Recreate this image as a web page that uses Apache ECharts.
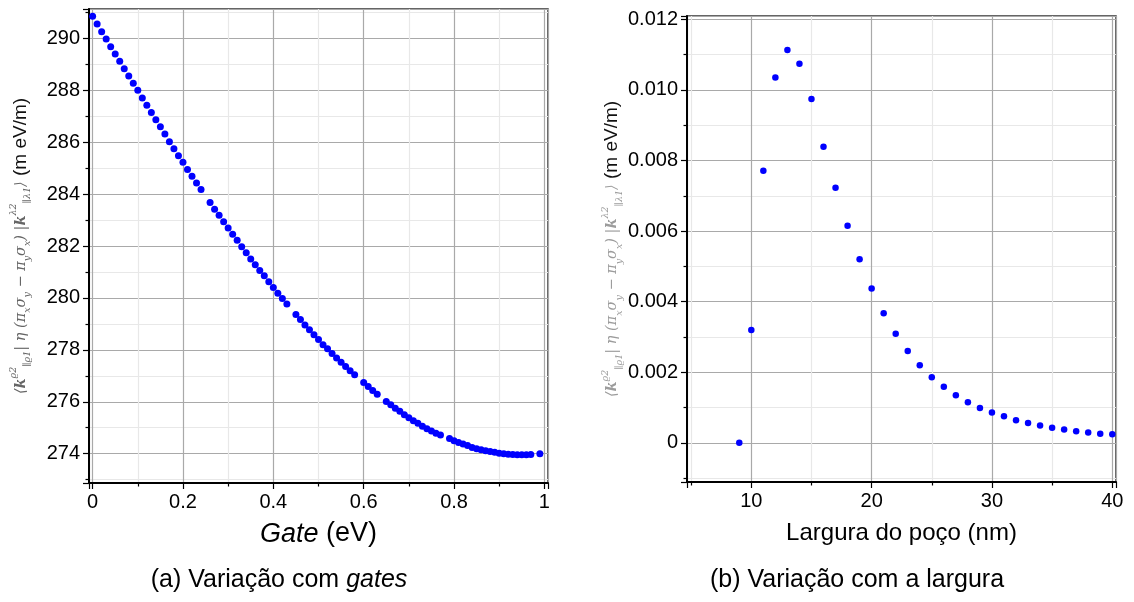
<!DOCTYPE html>
<html>
<head>
<meta charset="utf-8">
<script src="https://cdn.jsdelivr.net/npm/echarts@6/dist/echarts.min.js"></script>
<style>
  html, body { margin: 0; background: #fff; }
  #chart { width: 1134px; height: 602px; }
</style>
</head>
<body>
<div id="chart"></div>
<script>
// (a) gate sweep
const gateX = [
  0.00, 0.01, 0.02, 0.03, 0.04, 0.05, 0.06, 0.07, 0.08, 0.09,
  0.10, 0.11, 0.12, 0.13, 0.14, 0.15, 0.16, 0.17, 0.18, 0.19,
  0.20, 0.21, 0.22, 0.23, 0.24, 0.26, 0.27, 0.28, 0.29,
  0.30, 0.31, 0.32, 0.33, 0.34, 0.35, 0.36, 0.37, 0.38, 0.39,
  0.40, 0.41, 0.42, 0.43, 0.45, 0.46, 0.47, 0.48, 0.49,
  0.50, 0.51, 0.52, 0.53, 0.54, 0.55, 0.56, 0.57, 0.58,
  0.60, 0.61, 0.62, 0.63, 0.65, 0.66, 0.67, 0.68, 0.69,
  0.70, 0.71, 0.72, 0.73, 0.74, 0.75, 0.76, 0.77, 0.79,
  0.80, 0.81, 0.82, 0.83, 0.84, 0.85, 0.86, 0.87, 0.88, 0.89,
  0.90, 0.91, 0.92, 0.93, 0.94, 0.95, 0.96, 0.97, 0.99
]
const gateY = [
  290.85, 290.55, 290.25, 289.97, 289.68, 289.40, 289.12, 288.83, 288.55, 288.27,
  288.00, 287.70, 287.42, 287.14, 286.86, 286.59, 286.31, 286.02, 285.75, 285.48,
  285.23, 284.95, 284.69, 284.43, 284.18, 283.68, 283.42, 283.18, 282.93,
  282.69, 282.45, 282.22, 281.97, 281.74, 281.50, 281.28, 281.06, 280.85, 280.62,
  280.40, 280.18, 279.98, 279.77, 279.36, 279.17, 278.96, 278.77, 278.58,
  278.40, 278.20, 278.04, 277.86, 277.69, 277.52, 277.36, 277.19, 277.04,
  276.74, 276.59, 276.43, 276.29, 276.01, 275.88, 275.75, 275.63, 275.50,
  275.38, 275.27, 275.17, 275.06, 274.96, 274.87, 274.79, 274.72, 274.58,
  274.50, 274.43, 274.37, 274.31, 274.24, 274.19, 274.15, 274.11, 274.08, 274.05,
  274.02, 274.00, 273.98, 273.97, 273.96, 273.96, 273.96, 273.97, 274.00
]

// (b) well width sweep
const widthX = [
  9, 10, 11, 12, 13, 14, 15, 16, 17, 18, 19, 20, 21, 22, 23, 24,
  25, 26, 27, 28, 29, 30, 31, 32, 33, 34, 35, 36, 37, 38, 39, 40
]
const widthY = [
  0, 0.00320, 0.00771, 0.01035, 0.01113, 0.01074, 0.00974, 0.00839,
  0.00723, 0.00615, 0.00520, 0.00437, 0.00367, 0.00309, 0.00260, 0.00220,
  0.00186, 0.00159, 0.00135, 0.00115, 0.00099, 0.00086, 0.00075, 0.00064,
  0.00056, 0.00049, 0.00043, 0.00038, 0.00033, 0.00029, 0.00026, 0.00024
]

const FONT = 'Liberation Sans'
const MATH = 'DejaVu Serif'

// tick labels only on the nice steps, not on the frame edges
const stepLabel = (step, fmt) => v => {
  const k = v / step
  return Math.abs(k - Math.round(k)) < 1e-6 ? fmt(Math.round(k) * step) : ''
}

const baseAxis = (extra) => ({
  type: 'value',
  axisLine: { show: true, onZero: false, lineStyle: { color: '#000', width: 2 } },
  axisTick: { show: true, inside: false, length: 6, lineStyle: { color: '#000', width: 1.2 } },
  minorTick: { show: true, splitNumber: 2, length: 3.5, lineStyle: { color: '#000', width: 1.2 } },
  splitLine: { show: true, lineStyle: { color: '#a9a9a9', width: 1.2 } },
  minorSplitLine: { show: true, lineStyle: { color: '#e8e8e8', width: 1.2 } },
  ...extra
})

const tickLabel = (formatter) => ({
  color: '#000', fontFamily: FONT, fontSize: 20, margin: 9,
  showMinLabel: false, showMaxLabel: false, formatter
})

const mathRich = (grey) => ({
  m: { fontFamily: MATH, fontStyle: 'italic', fontSize: 14.5, color: grey, verticalAlign: 'middle', lineHeight: 24 },
  k: { fontFamily: MATH, fontStyle: 'italic', fontWeight: 'bold', fontSize: 14.5, color: grey, verticalAlign: 'middle', lineHeight: 24 },
  sup: { fontFamily: MATH, fontStyle: 'italic', fontSize: 9.5, color: grey, verticalAlign: 'top', lineHeight: 24 },
  sub: { fontFamily: MATH, fontStyle: 'italic', fontSize: 9.5, color: grey, verticalAlign: 'bottom', lineHeight: 24 },
  u: { fontFamily: FONT, fontSize: 19, color: '#111', verticalAlign: 'middle', lineHeight: 24 }
})

const braket = '{m|⟨}{k|k}{sup|ϱ2}{sub|∥ϱ1}{m|| η (π}{sub|x}{m|σ}{sub|y}{m| − π}{sub|y}{m|σ}{sub|x}{m|) |}{k|k}{sup|λ2}{sub|∥λ1}{m|⟩}{u| (m eV/m)}'

const option = {
  animation: false,
  backgroundColor: '#fff',
  grid: [
    { left: 89, top: 9, width: 459, height: 474, show: true, borderColor: '#333', borderWidth: 1.5 },
    { left: 687, top: 16, width: 429, height: 466, show: true, borderColor: '#333', borderWidth: 1.5 }
  ],
  xAxis: [
    baseAxis({
      gridIndex: 0, min: -0.008, max: 1.008, splitNumber: 5,
      axisLabel: tickLabel(stepLabel(0.2, v => String(+v.toFixed(1)))),
      name: '{i|Gate} (eV)', nameLocation: 'middle', nameGap: 35,
      nameTextStyle: { fontFamily: FONT, fontSize: 27, color: '#000', lineHeight: 32,
        rich: { i: { fontFamily: FONT, fontStyle: 'italic', fontSize: 27, color: '#000', lineHeight: 32 } } }
    }),
    baseAxis({
      gridIndex: 1, min: 4.655, max: 40.31, splitNumber: 4,
      axisLabel: tickLabel(stepLabel(10, v => String(Math.round(v)))),
      name: 'Largura do poço (nm)', nameLocation: 'middle', nameGap: 36,
      nameTextStyle: { fontFamily: FONT, fontSize: 24, color: '#000', lineHeight: 30 }
    })
  ],
  yAxis: [
    baseAxis({
      gridIndex: 0, min: 272.87, max: 291.13, splitNumber: 9,
      axisLabel: tickLabel(stepLabel(2, v => String(Math.round(v)))),
      name: braket, nameLocation: 'middle', nameGap: 56, nameRotate: 90,
      nameTextStyle: { rich: mathRich('#666') }
    }),
    baseAxis({
      gridIndex: 1, min: -0.00111, max: 0.012093, splitNumber: 7,
      axisLabel: tickLabel(stepLabel(0.002, v => Math.abs(v) < 1e-9 ? '0' : v.toFixed(3))),
      name: braket, nameLocation: 'middle', nameGap: 56, nameRotate: 90,
      nameTextStyle: { rich: mathRich('#9c9c9c') }
    })
  ],
  series: [
    {
      type: 'scatter', xAxisIndex: 0, yAxisIndex: 0,
      symbol: 'circle', symbolSize: 7,
      itemStyle: { color: '#0000ff', opacity: 1 },
      data: gateX.map((x, i) => [x, gateY[i]])
    },
    {
      type: 'scatter', xAxisIndex: 1, yAxisIndex: 1,
      symbol: 'circle', symbolSize: 6.5,
      itemStyle: { color: '#0000ff', opacity: 1 },
      data: widthX.map((x, i) => [x, widthY[i]])
    }
  ],
  graphic: [
    {
      type: 'text', x: 279, y: 580,
      style: {
        text: '(a) Variação com {i|gates}',
        fontFamily: FONT, fontSize: 25, fill: '#000', textAlign: 'center', textVerticalAlign: 'middle',
        rich: { i: { fontFamily: FONT, fontStyle: 'italic', fontSize: 25, fill: '#000' } }
      }
    },
    {
      type: 'text', x: 857, y: 580,
      style: {
        text: '(b) Variação com a largura',
        fontFamily: FONT, fontSize: 25, fill: '#000', textAlign: 'center', textVerticalAlign: 'middle'
      }
    }
  ]
}

const chart = echarts.init(document.getElementById('chart'))
chart.setOption(option)
</script>
</body>
</html>
